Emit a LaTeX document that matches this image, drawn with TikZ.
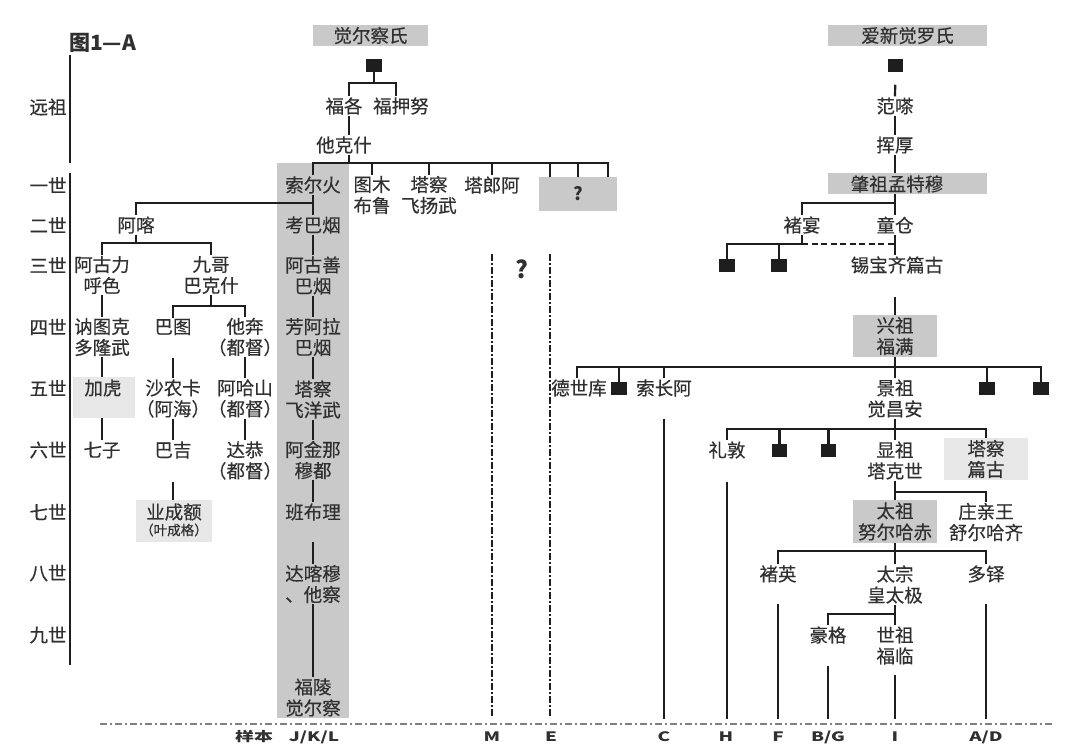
\documentclass[tikz,border=0pt]{standalone}
\usepackage{fontspec}
\setmainfont{Noto Sans CJK SC}[UprightFeatures={FakeBold=0.35}]
\usepackage{graphicx}
\definecolor{txt}{HTML}{303030}
\definecolor{lnc}{HTML}{1E1E1E}
\definecolor{boxg}{HTML}{C9C9C9}
\definecolor{boxl}{HTML}{E7E7E7}
\definecolor{ddc}{HTML}{808080}
\newcommand{\wide}[1]{\scalebox{1.45}[1]{#1}}
\begin{document}
\begin{tikzpicture}[x=1pt,y=-1pt,
  t/.style={font=\fontsize{18.5}{21}\selectfont, text=txt, inner sep=1pt, align=center},
  gb/.style={fill=boxg, inner sep=0, outer sep=0},
  lb/.style={fill=boxl, inner sep=0, outer sep=0},
  ln/.style={draw=lnc, line width=2.2pt},
  dsh/.style={draw=lnc, line width=2.2pt, dash pattern=on 6pt off 3.5pt},
  sq/.style={fill=lnc, inner sep=0, outer sep=0, minimum width=15.5pt, minimum height=12.5pt},
  ddv/.style={draw=lnc, line width=1.9pt, dash pattern=on 7pt off 2pt on 2pt off 2pt},
  ddh/.style={draw=ddc, line width=1.1pt, dash pattern=on 7pt off 3pt on 2pt off 3pt},
  lab/.style={font=\fontsize{13}{13}\selectfont\bfseries, text=txt, inner sep=0},
  axis/.style={draw=lnc, line width=2pt}]
\useasboundingbox[fill=white] (0,0) rectangle (1080,753);

% ---------- background boxes ----------
\node[gb, minimum width=72pt, minimum height=555pt] (col) at (313,440.5) {};
\node[gb, t, minimum width=115pt, minimum height=21pt] (jec) at (370.5,35.5) {觉尔察氏};
\node[gb, t, minimum width=159pt, minimum height=21pt] (axj) at (907.5,35.5) {爱新觉罗氏};
\node[gb, minimum width=78pt, minimum height=34pt, font=\fontsize{18}{18}\selectfont\bfseries, text=txt] (qbox) at (578,194) {?};
\node[gb, minimum width=159pt, minimum height=21pt] (zzbox) at (907.5,183.5) {};
\node[t] (zz) at (897,184) {肇祖孟特穆};
\node[gb, t, minimum width=84pt, minimum height=42pt] (xz) at (895,336) {兴祖\\福满};
\node[gb, t, minimum width=84pt, minimum height=43pt] (tz) at (895,521.5) {太祖\\努尔哈赤};
\node[lb, t, minimum width=84pt, minimum height=42pt] (tcpg) at (986,459) {塔察\\篇古};
\node[lb, minimum width=62pt, minimum height=41pt] (jhbox) at (104,397.5) {};
\node[t] (jh) at (103,388) {加虎};
\node[lb, minimum width=76pt, minimum height=42pt] (ycbox) at (174,521) {};
\node[t] (yce) at (174,512) {业成额};
\node[text=txt, inner sep=0, font=\fontsize{13.5}{13.5}\selectfont] (ycg) at (174,530) {（叶成格）};

% ---------- title and generation axis ----------
\node[anchor=west, font=\fontsize{21}{21}\selectfont\bfseries, text=txt, inner sep=0] (title) at (69,43) {图1—A};
\coordinate (a1) at (70,55); \coordinate (a2) at (70,163);
\coordinate (a3) at (70,173); \coordinate (a4) at (70,665);
\draw[axis] (a1) -- (a2);
\draw[axis] (a3) -- (a4);
\node[t] (g0) at (48,107) {远祖};
\node[t] (g1) at (48,185) {一世};
\node[t] (g2) at (48,225) {二世};
\node[t] (g3) at (48,265) {三世};
\node[t] (g4) at (48,327) {四世};
\node[t] (g5) at (48,388) {五世};
\node[t] (g6) at (48,450) {六世};
\node[t] (g7) at (48,512) {七世};
\node[t] (g8) at (48,573) {八世};
\node[t] (g9) at (48,635) {九世};

% ---------- 觉尔察氏 ----------
\node[sq] (s1) at (374,65.5) {};
\node[t] (fg) at (344,106) {福各};
\node[t] (fyn) at (401,106) {福押努};
\node[t] (tks) at (344,145) {他克什};
\coordinate (j1) at (374,83);
\coordinate (fgn) at ([xshift=5pt]fg.north);
\coordinate (fgs) at ([xshift=5pt]fg.south);
\coordinate (fynn) at ([xshift=-5pt]fyn.north);
\coordinate (tksn) at ([xshift=5pt]tks.north);
\coordinate (tkss) at ([xshift=5pt]tks.south);
\draw[ln] (s1.south) -- (j1);
\draw[ln] (fgn) |- (j1) -| (fynn);
\draw[ln] (fgs) -- (tksn);
\coordinate (j2) at (349,163);
\draw[ln] (tkss) -- (j2);

\node[t] (sr) at (313,185) {索尔火};
\node[t] (tm) at (372,195) {图木\\布鲁};
\node[t] (tc1) at (429,195) {塔察\\飞扬武};
\node[t] (tla) at (492,185) {塔郎阿};
\coordinate (q1) at ([xshift=-28pt]qbox.north);
\coordinate (q2) at (qbox.north);
\coordinate (q3) at ([xshift=30pt]qbox.north);
\draw[ln] (sr.north) |- (j2) -| (q3);
\draw[ln] (tm.north) -- (tm.north |- j2);
\draw[ln] (tc1.north) -- (tc1.north |- j2);
\draw[ln] (tla.north) -- (tla.north |- j2);
\draw[ln] (q1) -- (q1 |- j2);
\draw[ln] (q2) -- (q2 |- j2);

% column J/K/L
\node[t] (kb) at (313,225) {考巴烟};
\node[t] (ags) at (313,275.5) {阿古善\\巴烟};
\node[t] (fal) at (313,337) {芳阿拉\\巴烟};
\node[t] (tc2) at (313,399.5) {塔察\\飞洋武};
\node[t] (ajn) at (313,460) {阿金那\\穆都};
\node[t] (bbl) at (313,512) {班布理};
\node[t] (dkm) at (313,584) {达喀穆\\、他察};
\node[t] (fl) at (313,697.5) {福陵\\觉尔察};
\draw[ln] (sr.south) -- (kb.north);
\draw[ln] (kb.south) -- (ags.north);
\draw[ln] (ags.south) -- (fal.north);
\draw[ln] (fal.south) -- (tc2.north);
\draw[ln] (tc2.south) -- (ajn.north);
\draw[ln] (ajn.south) -- (bbl.north);
\draw[ln, shorten <=20pt] (bbl.south) -- (dkm.north);
\draw[ln] (dkm.south) -- (fl.north);

% left branch
\node[t] (ak) at (136,225) {阿喀};
\coordinate (j3) at (313,203);
\draw[ln] (j3) -| (ak.north);
\coordinate (j4) at (136,243);
\draw[ln] (ak.south) -- (j4);
\node[t] (agl) at (102,275) {阿古力\\呼色};
\node[t] (jg) at (211,275) {九哥\\巴克什};
\draw[ln] (agl.north) |- (j4) -| (jg.north);
\node[t] (ntk) at (102,337) {讷图克\\多隆武};
\draw[ln] (agl.south) -- (ntk.north);
\coordinate (j5) at (211,306);
\draw[ln] (jg.south) -- (j5);
\node[t] (bt) at (173,327) {巴图};
\node[t] (tb) at (245,337) {他奔\\（都督）};
\draw[ln] (bt.north) |- (j5) -| (tb.north);
\node[t] (snk) at (173,398.5) {沙农卡\\（阿海）};
\node[t] (ahs) at (245,398.5) {阿哈山\\（都督）};
\draw[ln] (ntk.south) -- (ntk.south |- jhbox.north);
\draw[ln, shorten <=22pt] (bt.south) -- (snk.north);
\draw[ln] (tb.south) -- (ahs.north);
\node[t] (qz) at (102,450) {七子};
\node[t] (bj) at (173,450) {巴吉};
\node[t] (dg) at (245,460.5) {达恭\\（都督）};
\draw[ln] (jhbox.south -| qz.north) -- (qz.north);
\draw[ln] (snk.south) -- (bj.north);
\draw[ln] (ahs.south) -- (dg.north);
\draw[ln, shorten <=22pt] (bj.south) -- (bj.south |- ycbox.north);

% middle dash-dot lines
\coordinate (mT) at (492,254); \coordinate (mB) at (492,718);
\coordinate (eT) at (550,254); \coordinate (eB) at (550,718);
\draw[ddv] (mT) -- (mB);
\draw[ddv] (eT) -- (eB);
\node[font=\fontsize{24}{24}\selectfont\bfseries, text=txt, inner sep=0] (qm) at (522,269) {?};

% ---------- 爱新觉罗氏 ----------
\node[sq] (s2) at (895.5,65.5) {};
\node[t] (fc) at (895,106) {范嗏};
\node[t] (hh) at (895,145) {挥厚};
\draw[ln, shorten <=13pt] (s2.south) -- (fc.north);
\draw[ln] (fc.south) -- (hh.north);
\draw[ln] (hh.south) -- (hh.south |- zzbox.north);
\node[t] (cy) at (802,225) {褚宴};
\node[t] (tcg) at (895,225) {童仓};
\coordinate (j6) at (895,203);
\draw[ln] (j6 |- zzbox.south) -- (tcg.north);
\draw[ln] (cy.north) |- (j6);
\coordinate (j7) at (802,244);
\draw[ln] (cy.south) -- (j7);
\node[sq] (sqa) at (727,265.5) {};
\node[sq] (sqb) at (779,265.5) {};
\draw[ln] (sqa.north) |- (j7);
\draw[ln] (sqb.north) -- (sqb.north |- j7);
\draw[dsh] (j7) -- (j7 -| tcg.south);
\node[t] (xbq) at (897,265) {锡宝齐篇古};
\draw[ln] (tcg.south) -- (tcg.south |- xbq.north);
\draw[ln, shorten <=22pt] (xz.north |- xbq.south) -- (xz.north);

\coordinate (j8) at (895,367);
\draw[ln] (xz.south) -- (j8);
\node[t] (dsk) at (579,388) {德世库};
\node[sq] (sqc) at (619,388.5) {};
\node[t] (sca) at (664,388) {索长阿};
\node[t] (jz) at (895,398.5) {景祖\\觉昌安};
\node[sq] (sqd) at (987,388.5) {};
\node[sq] (sqe) at (1041,388.5) {};
\coordinate (dskn) at ([xshift=-2pt]dsk.north);
\draw[ln] (dskn) |- (j8) -| (sqe.north);
\draw[ln] (sqc.north) -- (sqc.north |- j8);
\draw[ln] (sca.north) -- (sca.north |- j8);
\draw[ln] (sqd.north) -- (sqd.north |- j8);
\draw[ln] (j8) -- (jz.north);

\coordinate (j9) at (895,429);
\draw[ln] (jz.south) -- (j9);
\node[t] (ld) at (727,450) {礼敦};
\node[sq] (sqf) at (779.5,450.5) {};
\node[sq] (sqg) at (828.5,450.5) {};
\node[t] (xzu) at (895,460.5) {显祖\\塔克世};
\draw[ln] (ld.north) |- (j9) -| (tcpg.north);
\draw[ln] (sqf.north) -- (sqf.north |- j9);
\draw[ln] (sqg.north) -- (sqg.north |- j9);
\draw[ln] (j9) -- (xzu.north);

\coordinate (j10) at (895,492);
\node[t] (zqw) at (986,522) {庄亲王\\舒尔哈齐};
\draw[ln] (xzu.south) -- (tz.north);
\draw[ln] (j10) -| (zqw.north);

\coordinate (j11) at (895,551);
\node[t] (cyg) at (778,574) {褚英};
\node[t] (tzg) at (895,584.5) {太宗\\皇太极};
\node[t] (dd) at (986,574) {多铎};
\draw[ln] (tz.south) -- (tzg.north);
\draw[ln] (cyg.north) |- (j11) -| (dd.north);

\coordinate (j12) at (895,614);
\node[t] (hg) at (828,635) {豪格};
\node[t] (sz) at (895,645.5) {世祖\\福临};
\draw[ln] (tzg.south) -- (sz.north);
\draw[ln] (j12) -| (hg.north);

% ---------- sample lines ----------
\coordinate (eC) at (664,719);
\coordinate (eH) at (727,719);
\coordinate (eF) at (778,719);
\coordinate (eBG) at (828,719);
\coordinate (eI) at (895,719);
\coordinate (eAD) at (986,719);
\draw[ln, shorten <=21pt] (sca.south) -- (eC);
\draw[ln, shorten <=22pt] (ld.south) -- (eH);
\draw[ln, shorten <=20pt] (cyg.south) -- (eF);
\draw[ln, shorten <=21pt] (hg.south) -- (eBG);
\draw[ln, shorten <=9pt] (sz.south) -- (eI);
\draw[ln, shorten <=20pt] (dd.south) -- (eAD);

% bottom line and labels
\coordinate (bl) at (100,724); \coordinate (br) at (1055,724);
\draw[ddh] (bl) -- (br);
\node[lab] (lyb) at (254,737) {\wide{样本}};
\node[lab] (ljkl) at (314,737) {\wide{J/K/L}};
\node[lab] (lm) at (492,737) {\wide{M}};
\node[lab] (le) at (551,737) {\wide{E}};
\node[lab] (lc) at (664,737) {\wide{C}};
\node[lab] (lh) at (726,737) {\wide{H}};
\node[lab] (lf) at (778,737) {\wide{F}};
\node[lab] (lbg) at (828,737) {\wide{B/G}};
\node[lab] (li) at (895,737) {\wide{I}};
\node[lab] (lad) at (986,737) {\wide{A/D}};
\end{tikzpicture}
\end{document}
